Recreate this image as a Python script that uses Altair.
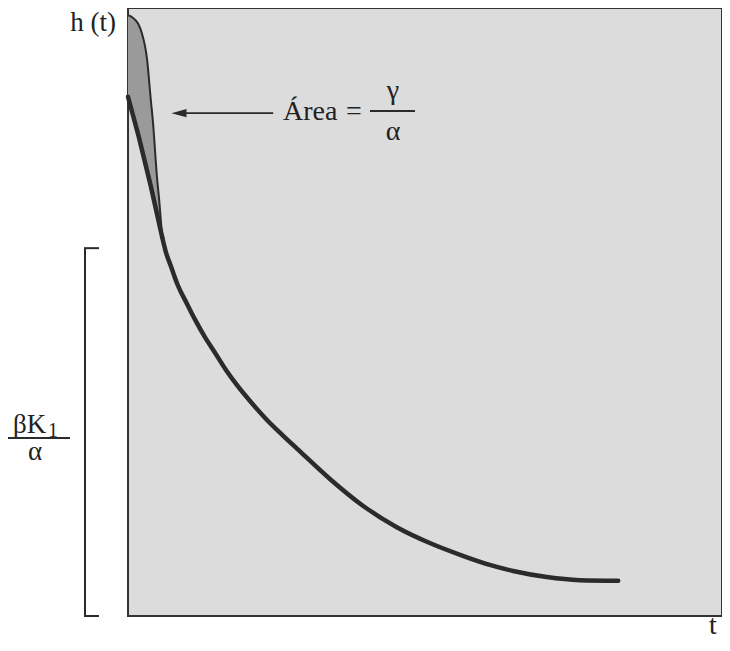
import altair as alt
import pandas as pd

# ---- data (t and h in arbitrary units) ----
# main decay curve h(t)
t_main = [0.57, 0.63, 0.72, 0.83, 0.97, 1.12, 1.28, 1.45, 1.63, 1.83, 2.03, 2.32, 2.57, 2.82,
          3.37, 3.92, 4.48, 5.03, 5.58, 6.03, 6.42, 6.98, 7.53, 8.17]
h_main = [6.23, 5.99, 5.74, 5.44, 5.16, 4.87, 4.59, 4.33, 4.05, 3.78, 3.54, 3.22, 2.98, 2.75,
          2.25, 1.81, 1.46, 1.20, 0.99, 0.84, 0.74, 0.64, 0.59, 0.58]

# lower (straight) initial segment
t_low = [0.00, 0.18, 0.38, 0.57]
h_low = [8.54, 7.88, 7.07, 6.23]

# upper hump curve and the lower boundary of the shaded area under it
t_up = [0.00, 0.08, 0.17, 0.23, 0.28, 0.32, 0.35, 0.38, 0.42, 0.45, 0.48, 0.52, 0.57]
h_up = [9.88, 9.84, 9.74, 9.59, 9.39, 9.14, 8.82, 8.49, 8.08, 7.66, 7.25, 6.84, 6.23]
h_up_base = [8.54, 8.24, 7.91, 7.75, 7.50, 7.34, 7.20, 7.07, 6.92, 6.78, 6.63, 6.46, 6.23]

# arrow (tail -> head) and bracket extent
arrow_t = [0.85, 2.42]
arrow_h = [8.27, 8.27]
arrow_head_t = [0.85]
bracket_h = [0.0, 6.05]

INK = "#2b2b2b"
FONT = "Liberation Serif"

xs = alt.Scale(domain=[0, 9.9], nice=False, zero=False)
ys = alt.Scale(domain=[0, 10], nice=False, zero=False)

main_df = pd.DataFrame({"t": t_main, "h": h_main, "i": range(len(t_main))})
low_df = pd.DataFrame({"t": t_low, "h": h_low, "i": range(len(t_low))})
up_df = pd.DataFrame({"t": t_up, "h": h_up, "hb": h_up_base, "i": range(len(t_up))})
arrow_df = pd.DataFrame({"t": arrow_t, "h": arrow_h, "i": [0, 1]})
head_df = pd.DataFrame({"t": arrow_head_t, "h": [arrow_h[0]]})

X = alt.X("t:Q", scale=xs, axis=None)
Y = alt.Y("h:Q", scale=ys, axis=None)

shade = alt.Chart(up_df).mark_area(fill="#9a9a9a", fillOpacity=1, interpolate="monotone").encode(
    x=X, y=Y, y2=alt.Y2("hb:Q")
)
up_line = alt.Chart(up_df).mark_line(color=INK, strokeWidth=2, interpolate="monotone").encode(
    x=X, y=Y, order="i:O"
)
low_line = alt.Chart(low_df).mark_line(color=INK, strokeWidth=4.5, strokeCap="round").encode(
    x=X, y=Y, order="i:O"
)
main_line = alt.Chart(main_df).mark_line(
    color=INK, strokeWidth=4.5, strokeCap="round", interpolate="monotone"
).encode(x=X, y=Y, order="i:O")
arrow_line = alt.Chart(arrow_df).mark_line(color=INK, strokeWidth=1.8).encode(x=X, y=Y, order="i:O")
arrow_head = alt.Chart(head_df).mark_point(
    shape="M -1 0 L 1 -0.55 L 1 0.55 Z", size=225, filled=True, color=INK, opacity=1, strokeWidth=0
).encode(x=X, y=Y)

# bracket on the left
brv_df = pd.DataFrame({"h": [bracket_h[1]], "h0": [bracket_h[0]]})
bracket_v = alt.Chart(brv_df).mark_rule(color=INK, strokeWidth=2).encode(
    x=alt.value(-43), y=alt.Y("h:Q", scale=ys, axis=None), y2="h0:Q"
)
br_df = pd.DataFrame({"h": bracket_h})
bracket_ticks = alt.Chart(br_df).mark_rule(color=INK, strokeWidth=2).encode(
    x=alt.value(-44), x2=alt.value(-29), y=alt.Y("h:Q", scale=ys, axis=None)
)

one = pd.DataFrame({"k": [0]})


def label(text, x, y, size=28, align="center"):
    return alt.Chart(one).mark_text(
        text=text, fontSize=size, font=FONT, align=align,
        baseline="alphabetic", color="#222222"
    ).encode(x=alt.value(x), y=alt.value(y))


def bar(x1, x2, y):
    return alt.Chart(one).mark_rule(color=INK, strokeWidth=1.8).encode(
        x=alt.value(x1), x2=alt.value(x2), y=alt.value(y)
    )


texts = [
    label("h (t)", -35, 23, size=27),
    label("Área", 155, 112, align="left"),
    label("=", 226, 112),
    label("γ", 265, 91),
    bar(242, 287, 103),
    label("α", 265, 132),
    label("βK", -115, 425, size=27, align="left"),
    label("1", -80, 429, size=20, align="left"),
    bar(-120, -58, 430),
    label("α", -93, 452, size=27),
    label("t", 585, 626),
]

chart = alt.layer(
    shade, up_line, low_line, main_line, arrow_line, arrow_head,
    bracket_v, bracket_ticks, *texts
).properties(
    width=594,
    height=608,
    autosize=alt.AutoSizeParams(type="none"),
    padding={"left": 120, "top": 0, "right": 0, "bottom": 27},
    background="white",
).configure_view(
    stroke="#333333", strokeWidth=2, fill="#dcdcdc"
)

chart.save("out.html", embed_options={"renderer": "svg", "actions": False})
